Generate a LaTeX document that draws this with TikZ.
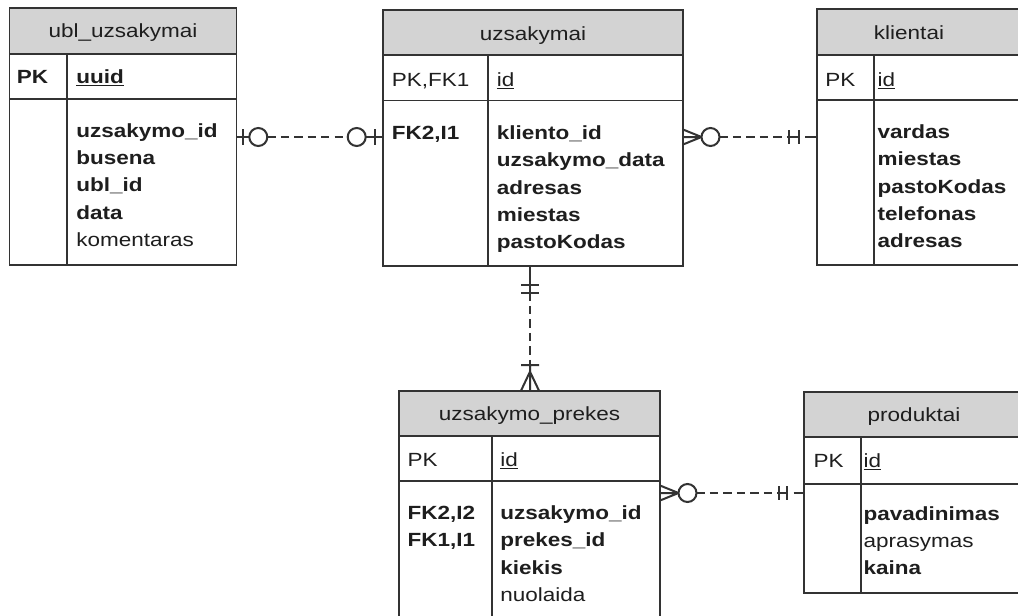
\documentclass[tikz,border=0pt]{standalone}
\usepackage{fontspec}
\setmainfont{Liberation Sans}[FakeStretch=1.18]
\usetikzlibrary{fit,calc}

\definecolor{rulecol}{HTML}{333333}
\definecolor{hdrfill}{HTML}{D3D3D3}
\definecolor{txt}{HTML}{1E1E1E}

\tikzset{
  tblframe/.style={draw=rulecol, line width=1.4pt, inner sep=0pt, outer sep=0pt},
  hdrframe/.style={tblframe, fill=hdrfill},
  tblrule/.style={draw=rulecol, line width=1.4pt},
  lbl/.style={anchor=base west, inner sep=0pt, text=txt,
              font=\fontsize{14.3pt}{17pt}\selectfont},
  ttl/.style={lbl, anchor=base},
  link/.style={draw=rulecol, line width=1.5pt},
  dashlink/.style={link, dash pattern=on 6.2pt off 3.9pt},
  ring/.style={link, fill=white},
}

% table frame: name, left, right, top, header bottom, key row bottom, bottom, divider x
\newcommand\erframe[8]{%
  \node[hdrframe, fit={(#2,#4) (#3,#5)}] (#1-head) {};
  \node[tblframe, fit={(#2,#4) (#3,#7)}] (#1) {};
  \draw[tblrule] (#2,#6) -- (#3,#6);
  \draw[tblrule] (#8,#5) -- (#8,#7);
}
% column of attribute lines: name prefix, x, first baseline, entries
\newcommand\fieldlist[4]{%
  \foreach \entry [count=\k] in {#4}
    \node[lbl] (#1\k) at (#2,{#3+(\k-1)*27.4}) {\entry};
}

\begin{document}
\begin{tikzpicture}[x=0.75pt, y=-0.75pt]
  \useasboundingbox (0,0) rectangle (1018,615);
  \fill[white] (0,0) rectangle (1018,615);
  \clip (0,0) rectangle (1018,615);

  % ---------- ubl_uzsakymai ----------
  \erframe{ubl}{9.5}{236.5}{8}{54}{99}{265}{67}
  \node[ttl] (ubl-title) at (123,37.5) {ubl\_uzsakymai};
  \node[lbl] (ubl-pk) at (16.7,83.3) {\bfseries PK};
  \node[lbl] (ubl-id) at (76,83.3) {\bfseries\underline{uuid}};
  \fieldlist{ublf}{76}{137}{{\bfseries uzsakymo\_id},{\bfseries busena},{\bfseries ubl\_id},{\bfseries data},komentaras}

  % ---------- uzsakymai ----------
  \erframe{uz}{383}{683}{10}{55}{100.5}{266}{488}
  \node[ttl] (uz-title) at (533,40) {uzsakymai};
  \node[lbl] (uz-pk) at (391.7,86) {PK,FK1};
  \node[lbl] (uz-id) at (496.7,86) {\underline{id}};
  \node[lbl] (uz-fk) at (391.7,139.3) {\bfseries FK2,I1};
  \fieldlist{uzf}{496.7}{139.3}{{\bfseries kliento\_id},{\bfseries uzsakymo\_data},{\bfseries adresas},{\bfseries miestas},{\bfseries pastoKodas}}

  % ---------- klientai ----------
  \erframe{kl}{817}{1040}{9}{55}{100}{265}{874}
  \node[ttl] (kl-title) at (909,39.5) {klientai};
  \node[lbl] (kl-pk) at (825,86.5) {PK};
  \node[lbl] (kl-id) at (877.3,86.5) {\underline{id}};
  \fieldlist{klf}{877.3}{138.3}{{\bfseries vardas},{\bfseries miestas},{\bfseries pastoKodas},{\bfseries telefonas},{\bfseries adresas}}

  % ---------- uzsakymo_prekes ----------
  \erframe{up}{399}{660}{390.7}{435.7}{481}{640}{491.7}
  \node[ttl] (up-title) at (529.5,420) {uzsakymo\_prekes};
  \node[lbl] (up-pk) at (407.3,466) {PK};
  \node[lbl] (up-id) at (500,466) {\underline{id}};
  \fieldlist{upk}{407.3}{519.3}{{\bfseries FK2,I2},{\bfseries FK1,I1}}
  \fieldlist{upf}{500}{519.3}{{\bfseries uzsakymo\_id},{\bfseries prekes\_id},{\bfseries kiekis},nuolaida}

  % ---------- produktai ----------
  \erframe{pr}{804.3}{1040}{392.3}{436.7}{484}{592.7}{860.7}
  \node[ttl] (pr-title) at (914,421.5) {produktai};
  \node[lbl] (pr-pk) at (813.3,467.5) {PK};
  \node[lbl] (pr-id) at (863.3,467.5) {\underline{id}};
  \fieldlist{prf}{863.3}{520}{{\bfseries pavadinimas},aprasymas,{\bfseries kaina}}

  % ---------- relationship levels ----------
  \coordinate (lvlA) at (0,137);
  \coordinate (lvlB) at (0,493);
  \coordinate (colC) at (530,0);

  % ubl_uzsakymai -- uzsakymai : zero-or-one on both ends
  \draw[dashlink] ($(ubl.east |- lvlA)+(30.8,0)$) -- ($(uz.west |- lvlA)+(-35.3,0)$);
  \begin{scope}[shift={(ubl.east |- lvlA)}]
    \draw[link] (0,0) -- (13,0) (6.2,-8) -- (6.2,8);
    \draw[ring] (21.8,0) circle[radius=9];
  \end{scope}
  \begin{scope}[shift={(uz.west |- lvlA)}]
    \draw[link] (0,0) -- (-17.3,0) (-8,-8) -- (-8,8);
    \draw[ring] (-26.3,0) circle[radius=9];
  \end{scope}

  % uzsakymai -- klientai : zero-or-many to exactly one
  \draw[dashlink] ($(uz.east |- lvlA)+(36.5,0)$) -- ($(kl.west |- lvlA)+(-28.4,0)$);
  \begin{scope}[shift={(uz.east |- lvlA)}]
    \draw[link] (0,-7.5) -- (18.5,0) -- (0,7.5) (0,0) -- (18.5,0);
    \draw[ring] (27.5,0) circle[radius=9];
  \end{scope}
  \begin{scope}[shift={(kl.west |- lvlA)}]
    \draw[link] (-28.4,-7) -- (-28.4,7) (-18.4,-7) -- (-18.4,7)
                (-28.4,0) -- (-18.4,0) (-11.7,0) -- (0,0);
  \end{scope}

  % uzsakymai -- uzsakymo_prekes : exactly one to one-or-many
  \draw[dashlink] ($(uz.south -| colC)+(0,26.5)$) -- ($(up.north -| colC)+(0,-25.7)$);
  \begin{scope}[shift={(uz.south -| colC)}]
    \draw[link] (0,0) -- (0,26.5) (-9,19) -- (9,19) (-9,26.5) -- (9,26.5);
  \end{scope}
  \begin{scope}[shift={(up.north -| colC)}]
    \draw[link] (0,-25.7) -- (0,0) (-9,-25.7) -- (9,-25.7)
                (-9,0) -- (0,-19) -- (9,0);
  \end{scope}

  % uzsakymo_prekes -- produktai : zero-or-many to exactly one
  \draw[dashlink] ($(up.east |- lvlB)+(36.5,0)$) -- ($(pr.west |- lvlB)+(-25.7,0)$);
  \begin{scope}[shift={(up.east |- lvlB)}]
    \draw[link] (0,-7.5) -- (18.5,0) -- (0,7.5) (0,0) -- (18.5,0);
    \draw[ring] (27.5,0) circle[radius=9];
  \end{scope}
  \begin{scope}[shift={(pr.west |- lvlB)}]
    \draw[link] (-25.7,-7) -- (-25.7,7) (-17.3,-7) -- (-17.3,7)
                (-25.7,0) -- (-17.3,0) (-10.7,0) -- (0,0);
  \end{scope}
\end{tikzpicture}
\end{document}
